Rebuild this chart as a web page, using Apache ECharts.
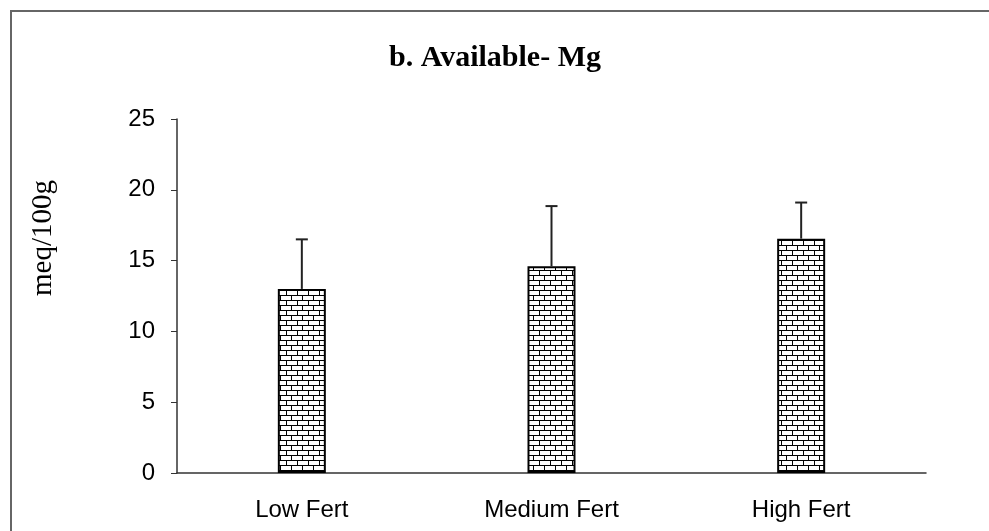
<!DOCTYPE html>
<html>
<head>
<meta charset="utf-8">
<script src="https://cdn.jsdelivr.net/npm/echarts@6/dist/echarts.min.js"></script>
<style>
  html, body { margin: 0; padding: 0; background: #fff; }
  #chart { width: 989px; height: 531px; }
</style>
</head>
<body>
<div id="chart"></div>
<script>
var categories = ['Low Fert', 'Medium Fert', 'High Fert'];
var means = [13.0, 14.6, 16.55];
var errors = [3.5, 4.25, 2.55];
var yTicks = [0, 5, 10, 15, 20, 25];

// brick fill for the bars
function brickPattern() {
  var c = document.createElement('canvas');
  c.width = 11;
  c.height = 10;
  var g = c.getContext('2d');
  g.fillStyle = '#fff';
  g.fillRect(0, 0, 11, 10);
  g.fillStyle = '#000';
  g.fillRect(0, 0, 11, 1);
  g.fillRect(0, 5, 11, 1);
  g.fillRect(0, 0, 1, 5);
  g.fillRect(5, 5, 1, 5);
  return c;
}

var dom = document.getElementById('chart');
var myChart = echarts.init(dom, null, { renderer: 'canvas' });

var errData = categories.map(function (c, i) {
  return [i, means[i], means[i] + errors[i]];
});

var option = {
  animation: false,
  backgroundColor: '#fff',
  title: {
    text: 'b. Available- Mg',
    left: 490,
    textAlign: 'center',
    top: 38,
    textStyle: {
      fontFamily: 'Liberation Serif',
      fontWeight: 'bold',
      fontSize: 30,
      color: '#000'
    }
  },
  graphic: [
    {
      type: 'rect',
      shape: { x: 11, y: 11, width: 1000, height: 600 },
      style: { fill: 'none', stroke: '#666', lineWidth: 2 },
      silent: true
    },
    {
      type: 'text',
      x: 43,
      y: 238,
      rotation: Math.PI / 2,
      style: {
        text: 'meq/100g',
        fontFamily: 'Liberation Serif',
        fontSize: 29,
        fill: '#000',
        align: 'center',
        verticalAlign: 'middle'
      }
    }
  ],
  grid: { left: 177, right: 63, top: 119, bottom: 58 },
  xAxis: {
    type: 'category',
    data: categories,
    axisLine: { lineStyle: { color: '#333', width: 1.5 } },
    axisTick: { length: 5, lineStyle: { color: '#333' } },
    axisLabel: {
      fontFamily: 'Liberation Sans',
      fontSize: 24,
      color: '#000',
      margin: 25
    }
  },
  yAxis: {
    type: 'value',
    min: yTicks[0],
    max: yTicks[yTicks.length - 1],
    interval: 5,
    splitLine: { show: false },
    axisLine: { show: true, lineStyle: { color: '#333', width: 1.5 } },
    axisTick: { show: true, inside: false, length: 6, lineStyle: { color: '#333' } },
    axisLabel: {
      fontFamily: 'Liberation Sans',
      fontSize: 24,
      color: '#000',
      margin: 22
    }
  },
  series: [
    {
      type: 'bar',
      data: means,
      barWidth: 48,
      itemStyle: {
        color: { image: brickPattern(), repeat: 'repeat' },
        borderColor: '#000',
        borderWidth: 2
      }
    },
    {
      type: 'custom',
      data: errData,
      z: 5,
      renderItem: function (params, api) {
        var base = api.coord([api.value(0), api.value(1)]);
        var top = api.coord([api.value(0), api.value(2)]);
        var style = { stroke: '#222', lineWidth: 2 };
        return {
          type: 'group',
          children: [
            { type: 'line', shape: { x1: base[0], y1: base[1], x2: top[0], y2: top[1] }, style: style },
            { type: 'line', shape: { x1: top[0] - 6, y1: top[1], x2: top[0] + 6, y2: top[1] }, style: style }
          ]
        };
      }
    }
  ]
};

myChart.setOption(option);
window.addEventListener('resize', myChart.resize);
</script>
</body>
</html>
